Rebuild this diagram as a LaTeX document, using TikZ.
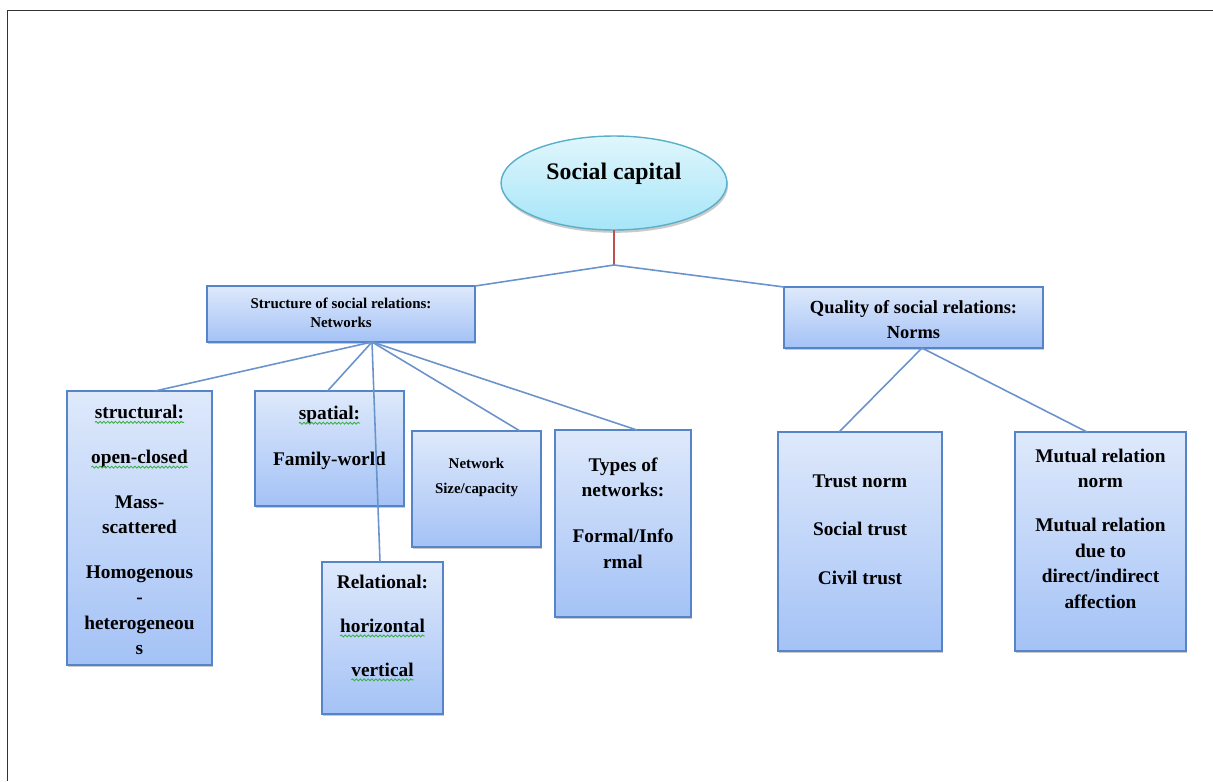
\documentclass[tikz,border=0pt]{standalone}
\usepackage{fontspec}
\setmainfont{Liberation Serif}
\usetikzlibrary{shapes.geometric,shadows,calc,decorations.pathmorphing}
\definecolor{boxtop}{HTML}{DEE9FB}
\definecolor{boxbot}{HTML}{A4C2F6}
\definecolor{boxline}{HTML}{5585C8}
\definecolor{connc}{HTML}{6A93CB}
\definecolor{elltop}{HTML}{E0F6FC}
\definecolor{ellbot}{HTML}{A6E5F8}
\definecolor{ellline}{HTML}{5AAFC9}
\definecolor{redline}{HTML}{C0504D}
\definecolor{spellgreen}{HTML}{3CB043}
\newcommand\gwave[1]{\tikz[baseline=(w.base)]{\node[inner sep=0pt, outer sep=0pt] (w) {#1};
  \draw[spellgreen, line width=0.5pt, decorate, decoration={snake, amplitude=0.55pt, segment length=2.2pt}]
    ($(w.base west)+(0pt,-2.2pt)$) -- ($(w.base east)+(0pt,-2.2pt)$);}}
\begin{document}
\begin{tikzpicture}[x=0.02cm,y=-0.02cm,
  bluebox/.style={rectangle, draw=boxline, line width=0.8pt, top color=boxtop, bottom color=boxbot,
    inner sep=0pt, outer sep=0pt,
    drop shadow={shadow xshift=0.6pt, shadow yshift=-1.4pt, opacity=0.35, fill=black!60}},
  boxtext/.style={align=center, inner sep=0pt, font=\bfseries\fontsize{11}{14.5}\selectfont},
  conn/.style={draw=connc, line width=0.9pt}]
\useasboundingbox (0,0) rectangle (1213,781);
% frame
\draw[black!80, line width=0.8pt] (7.5,781) -- (7.5,10.5) -- (1213,10.5);
% top ellipse
\node[ellipse, draw=ellline, line width=0.8pt, top color=elltop, bottom color=ellbot,
  minimum width=4.52cm, minimum height=1.88cm, inner sep=0pt, outer sep=0pt,
  drop shadow={shadow xshift=0.6pt, shadow yshift=-1.6pt, opacity=0.35, fill=black!60}] (cap) at (614,183) {};
\node[font=\bfseries\fontsize{13.5}{16}\selectfont, inner sep=0pt] (captext) at (614,174) {Social capital};
% second level
\node[bluebox, minimum width=5.36cm, minimum height=1.12cm] (structure) at (341,314) {};
\node[boxtext, font=\bfseries\fontsize{8.5}{10.8}\selectfont] (structuretext) at (341,312.5) {Structure of social relations:\\Networks};
\node[bluebox, minimum width=5.18cm, minimum height=1.22cm] (quality) at (913.5,317.5) {};
\node[boxtext, font=\bfseries\fontsize{10.5}{14}\selectfont] (qualitytext) at (913.5,319.5) {Quality of social relations:\\Norms};
% third level boxes
\node[bluebox, minimum width=2.90cm, minimum height=5.48cm] (structural) at (139.5,528) {};
\node[boxtext] (structuraltext) at (139.5,530) {\gwave{structural:}\\[11pt]\gwave{open-closed}\\[11pt]Mass-\\scattered\\[11pt]Homogenous\\-\\heterogeneou\\s};
\node[bluebox, minimum width=2.98cm, minimum height=2.30cm] (spatial) at (329.5,448.5) {};
\node[boxtext] (spatialtext) at (329.5,438) {\gwave{spatial:}\\[12pt]Family-world};
\node[bluebox, minimum width=2.58cm, minimum height=2.32cm] (netsize) at (476.5,489) {};
\node[boxtext, font=\bfseries\fontsize{8.5}{14}\selectfont] (netsizetext) at (476.5,477.5) {Network\\Size/capacity};
\node[bluebox, minimum width=2.42cm, minimum height=3.04cm] (relational) at (382.5,638) {};
\node[boxtext] (relationaltext) at (382.5,628) {Relational:\\[10.5pt]\gwave{horizontal}\\[10.5pt]\gwave{vertical}};
\node[bluebox, minimum width=2.72cm, minimum height=3.74cm] (types) at (623,523.5) {};
\node[boxtext] (typestext) at (623,513) {Types of\\networks:\\[11.5pt]Formal/Info\\rmal};
\node[bluebox, minimum width=3.28cm, minimum height=4.38cm] (trust) at (860,541.5) {};
\node[boxtext] (trusttext) at (860,529.5) {Trust norm\\[13pt]Social trust\\[13pt]Civil trust};
\node[bluebox, minimum width=3.42cm, minimum height=4.38cm] (mutual) at (1100.5,541.5) {};
\node[boxtext] (mutualtext) at (1100.5,528.5) {Mutual relation\\norm\\[10.5pt]Mutual relation\\due to\\direct/indirect\\affection};
% connectors
\coordinate (j) at (614,265);
\draw[draw=redline, line width=0.9pt] (cap.south) -- (j);
\draw[conn] (j) -- (structure.north east);
\draw[conn] (j) -- (quality.north west);
\coordinate (sb) at (372,342);
\draw[conn] (sb) -- ($(structural.north)+(15.5,0)$);
\draw[conn] (sb) -- ($(spatial.north)+(-2,0)$);
\draw[conn] (sb) -- ($(relational.north)+(-2.5,0)$);
\draw[conn] (sb) -- ($(netsize.north)+(43.5,0)$);
\draw[conn] (sb) -- ($(types.north)+(14,0)$);
\coordinate (qb) at (922,348);
\draw[conn] (qb) -- ($(trust.north)+(-21,0)$);
\draw[conn] (qb) -- ($(mutual.north)+(-13.5,0)$);
\end{tikzpicture}
\end{document}
